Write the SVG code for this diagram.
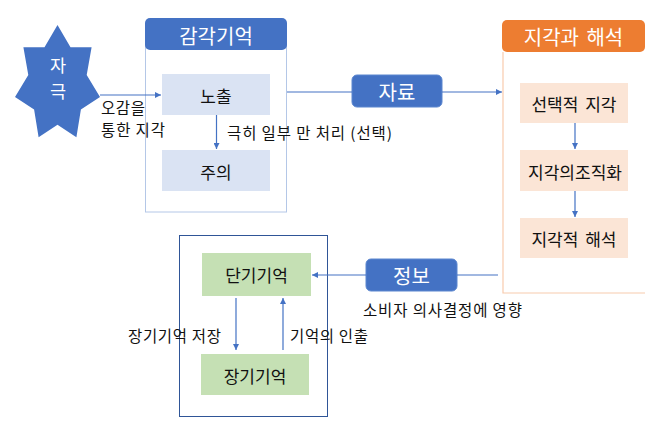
<svg xmlns="http://www.w3.org/2000/svg" width="670" height="434" viewBox="0 0 670 434">
<style>
text{font-family:"Noto Sans CJK KR","Noto Sans",sans-serif;}
.w{fill:#fff;text-anchor:middle;dominant-baseline:central;}
.k{fill:#111;text-anchor:middle;dominant-baseline:central;font-size:17px;word-spacing:3px;}
.lbl{fill:#111;font-size:15.5px;}
.ln{stroke:#4472C4;stroke-width:1.2;fill:none;}
.blue{fill:#4472C4;stroke:#5B86CF;stroke-width:1;}
</style>
<defs>
<marker id="ah" viewBox="0 0 10 10" refX="10" refY="5" markerWidth="6" markerHeight="6" markerUnits="userSpaceOnUse" orient="auto">
<path d="M0,0 L10,5 L0,10 z" fill="#4472C4"/>
</marker>
</defs>
<rect width="670" height="434" fill="#fff"/>

<g id="stimulus">
<polygon fill="#4472C4" points="57.5,25 70.5,47.3 91.6,47.2 86.7,74.9 100,97.1 80.9,109.4 76.4,137.2 57.5,124.7 38.6,137.2 34.1,109.4 15,97.1 28.3,74.9 23.4,47.2 44.5,47.3"/>
<text fill="#fff" text-anchor="middle" font-size="17.5"><tspan x="58" y="72">자</tspan><tspan x="58" y="97.5">극</tspan></text>
</g>

<g id="sensory-memory">
<rect x="145.5" y="30" width="141" height="182" fill="#fff" stroke="#B4C7E7" stroke-width="1"/>
<rect x="145" y="18" width="142" height="32" rx="5" fill="#4472C4"/>
<text class="w" x="216" y="35" font-size="20">감각기억</text>
</g>
<g id="exposure">
<rect x="162" y="74" width="108" height="41" fill="#DAE3F3"/>
<text class="k" x="216" y="95">노출</text>
</g>
<g id="attention">
<rect x="162" y="150" width="108" height="41" fill="#DAE3F3"/>
<text class="k" x="216" y="171">주의</text>
</g>

<g id="data">
<rect x="352" y="75" width="90" height="32" rx="5" class="blue"/>
<text class="w" x="397" y="91" font-size="20">자료</text>
</g>

<g id="perception">
<path d="M503,52 V293 H645" fill="none" stroke="#F8CBAD" stroke-width="1.2"/>
<rect x="502" y="20" width="143" height="32" rx="5" fill="#ED7D31"/>
<text class="w" x="573.5" y="36" font-size="20" word-spacing="3">지각과 해석</text>
</g>
<g id="selective">
<rect x="520" y="83" width="108" height="40" fill="#FBE5D6"/>
<text class="k" x="574" y="103">선택적 지각</text>
</g>
<g id="organization">
<rect x="520" y="150" width="108" height="41" fill="#FBE5D6"/>
<text class="k" x="575" y="171">지각의조직화</text>
</g>
<g id="interpretation">
<rect x="520" y="218" width="108" height="40" fill="#FBE5D6"/>
<text class="k" x="574" y="238">지각적 해석</text>
</g>

<g id="info">
<rect x="366" y="259" width="91" height="32" rx="5" class="blue"/>
<text class="w" x="411.5" y="275" font-size="20">정보</text>
</g>

<g id="memory">
<rect x="179.5" y="235.5" width="148" height="181" fill="none" stroke="#2F5597" stroke-width="1"/>
</g>
<g id="short-term">
<rect x="202" y="253" width="109" height="43" fill="#C5E0B4"/>
<text class="k" x="256.5" y="274">단기기억</text>
</g>
<g id="long-term">
<rect x="201" y="354" width="108" height="41" fill="#C5E0B4"/>
<text class="k" x="255" y="375">장기기억</text>
</g>

<g id="connectors">
<line class="ln" x1="100" y1="95" x2="161" y2="95" marker-end="url(#ah)"/>
<line class="ln" x1="216.5" y1="115" x2="216.5" y2="149" marker-end="url(#ah)"/>
<line class="ln" x1="287" y1="92" x2="352" y2="92"/>
<line class="ln" x1="442" y1="92" x2="502" y2="92" marker-end="url(#ah)"/>
<line class="ln" x1="575" y1="123" x2="575" y2="149" marker-end="url(#ah)"/>
<line class="ln" x1="575" y1="191" x2="575" y2="217" marker-end="url(#ah)"/>
<line class="ln" x1="498" y1="275" x2="457" y2="275"/>
<line class="ln" x1="366" y1="275" x2="312" y2="275" marker-end="url(#ah)"/>
<line class="ln" x1="236" y1="298" x2="236" y2="350" marker-end="url(#ah)"/>
<line class="ln" x1="283" y1="350" x2="283" y2="298" marker-end="url(#ah)"/>
</g>

<g id="labels">
<text class="lbl" font-size="14.5"><tspan x="101" y="114" textLength="44" lengthAdjust="spacing">오감을</tspan><tspan x="101" y="135.5" textLength="64" lengthAdjust="spacing">통한 지각</tspan></text>
<text class="lbl" x="227" y="139" textLength="165" lengthAdjust="spacing">극히 일부 만 처리 (선택)</text>
<text class="lbl" x="363" y="316" textLength="159" lengthAdjust="spacing">소비자 의사결정에 영향</text>
<text class="lbl" x="128" y="342" textLength="93" lengthAdjust="spacing">장기기억 저장</text>
<text class="lbl" x="290" y="342" textLength="78" lengthAdjust="spacing">기억의 인출</text>
</g>
</svg>
